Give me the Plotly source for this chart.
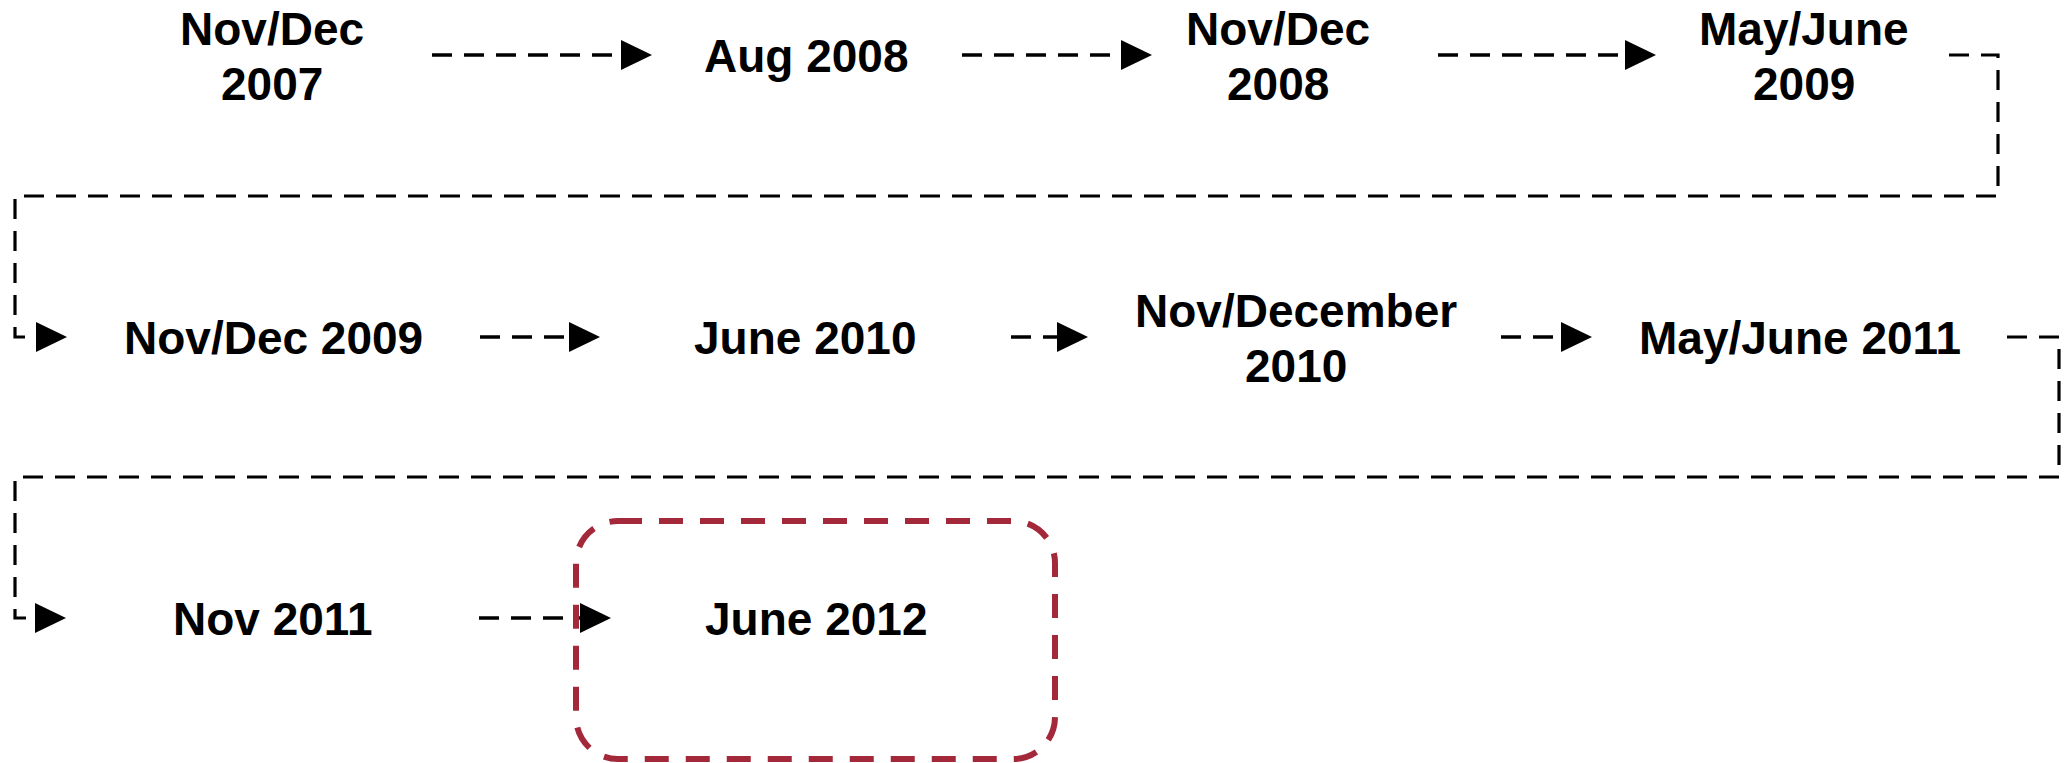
import plotly.graph_objects as go

# ---- content (labels of each step, in order) ----
row1_labels = ["Nov/Dec\n2007", "Aug 2008", "Nov/Dec\n2008", "May/June\n2009"]
row2_labels = ["Nov/Dec 2009", "June 2010", "Nov/December\n2010", "May/June 2011"]
row3_labels = ["Nov 2011", "June 2012"]
highlighted_label = "June 2012"

# ---- layout (pixel geometry of the diagram canvas) ----
W, H = 2067, 763
row_y = [55, 337, 618]                      # arrow line level of each row
row_text_x = [
    [272, 806, 1278, 1804],
    [273, 805, 1296, 1800],
    [272, 816],
]
arrow_spans = [                              # (start x, tip x) of arrows inside rows
    [(432, 652), (962, 1152), (1438, 1656)],
    [(480, 600), (1011, 1088), (1501, 1592)],
    [(479, 611)],
]
connectors = [                               # row-wrapping connectors
    dict(x0=1949, xr=1998, ydrop=196, xl=15, tip=67, r_from=0, r_to=1),
    dict(x0=2007, xr=2059, ydrop=477, xl=15, tip=66, r_from=1, r_to=2),
]
box = dict(x0=576, x1=1055, y0=521, y1=759, r=42)

FONT = dict(family="Liberation Sans, Arial", size=46, color="black", weight="bold")
LINE_GAP = 55
TEXT_DY = 1
HEAD_LEN, HEAD_HALF = 31, 15
BLACK_DASH = "20px,12px"
RED = "#A3293A"

fig = go.Figure()
fig.add_trace(go.Scatter(x=[0, W], y=[0, H], mode="markers",
                         marker=dict(opacity=0), hoverinfo="skip", showlegend=False))

shapes = []
annotations = []


def arrow_head(tip_x, y):
    return dict(type="path", xref="x", yref="y",
                path=f"M {tip_x - HEAD_LEN} {y - HEAD_HALF} L {tip_x} {y} L {tip_x - HEAD_LEN} {y + HEAD_HALF} Z",
                fillcolor="black", line=dict(width=0), layer="above")


# arrows within rows
for r, spans in enumerate(arrow_spans):
    y = row_y[r]
    for (xs, xt) in spans:
        shapes.append(dict(type="line", xref="x", yref="y", x0=xs, y0=y, x1=xt - HEAD_LEN + 2, y1=y,
                           line=dict(color="black", width=3.5, dash=BLACK_DASH)))
        shapes.append(arrow_head(xt, y))

# connectors between rows
for c in connectors:
    ya, yb = row_y[c["r_from"]], row_y[c["r_to"]]
    p = (f"M {c['x0']} {ya} H {c['xr']} V {c['ydrop']} H {c['xl']} V {yb} "
         f"H {c['tip'] - HEAD_LEN + 2}")
    shapes.append(dict(type="path", xref="x", yref="y", path=p,
                       line=dict(color="black", width=3.2, dash=BLACK_DASH)))
    shapes.append(arrow_head(c["tip"], yb))

# highlight box (rounded, dashed red)
k = 0.5523 * box["r"]
x0, x1, y0, y1, rr = box["x0"], box["x1"], box["y0"], box["y1"], box["r"]
bp = (f"M {x0 + rr} {y0} H {x1 - rr} C {x1 - rr + k} {y0} {x1} {y0 + rr - k} {x1} {y0 + rr} "
      f"V {y1 - rr} C {x1} {y1 - rr + k} {x1 - rr + k} {y1} {x1 - rr} {y1} "
      f"H {x0 + rr} C {x0 + rr - k} {y1} {x0} {y1 - rr + k} {x0} {y1 - rr} "
      f"V {y0 + rr} C {x0} {y0 + rr - k} {x0 + rr - k} {y0} {x0 + rr} {y0} Z")
shapes.append(dict(type="path", xref="x", yref="y", path=bp,
                   line=dict(color=RED, width=6, dash="24px,17px"), layer="above"))

# labels
for r, labels in enumerate([row1_labels, row2_labels, row3_labels]):
    for i, lab in enumerate(labels):
        lines = lab.split("\n")
        x = row_text_x[r][i]
        n = len(lines)
        ys = [row_y[r] + (j - (n - 1) / 2) * LINE_GAP for j in range(n)]
        for ln, yy in zip(lines, ys):
            annotations.append(dict(x=x, y=yy + TEXT_DY, xref="x", yref="y", text=ln,
                                    showarrow=False, font=FONT,
                                    xanchor="center", yanchor="middle"))

fig.update_layout(
    width=W, height=H,
    margin=dict(l=0, r=0, t=0, b=0),
    paper_bgcolor="white", plot_bgcolor="white",
    xaxis=dict(range=[0, W], visible=False, fixedrange=True),
    yaxis=dict(range=[H, 0], visible=False, fixedrange=True),
    shapes=shapes, annotations=annotations, showlegend=False,
)

fig.write_html("out.html", config=dict(displayModeBar=False),
               post_script="document.body.style.margin='0';document.body.style.overflow='hidden';")
